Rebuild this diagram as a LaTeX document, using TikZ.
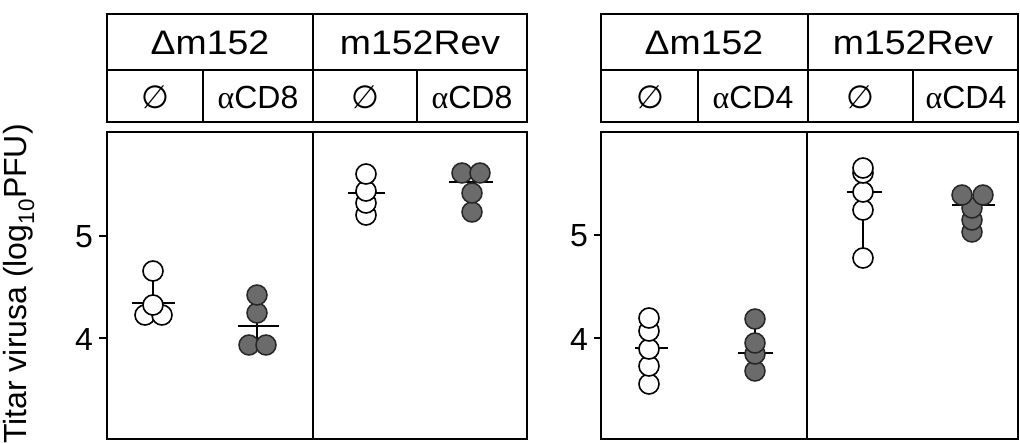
\documentclass[tikz,border=0pt]{standalone}
\usepackage{fontspec}
\setmainfont{Liberation Sans}
\newfontfamily\hdfont[FakeStretch=1.1]{Liberation Sans}
\newfontfamily\dvfont{DejaVu Sans}
\newfontfamily\grfont{Liberation Serif}
\newcommand\opendot[2]{\draw[opn] (#1,#2) circle[radius=10pt];}
\newcommand\filldot[2]{\draw[fil] (#1,#2) circle[radius=10pt];}
\begin{document}
\begin{tikzpicture}[x=1pt,y=-1pt,
 frame/.style={draw=black, line width=1.6pt},
 lbl/.style={font=\fontsize{32}{36}\selectfont, inner sep=0pt},
 hd/.style={font=\fontsize{34}{38}\selectfont\hdfont, inner sep=0pt},
 opn/.style={draw=black, fill=white, line width=1.6pt},
 fil/.style={draw=black!85, fill=black!58, line width=1.5pt},
 bar/.style={draw=black, line width=1.4pt}]
\useasboundingbox (0,0) rectangle (1020,442);
% ---------- left panel ----------
\draw[frame] (107,14) rectangle (527,122);
\draw[frame] (107,70) -- (527,70);
\draw[frame] (313,14) -- (313,122);
\draw[frame] (203,70) -- (203,122);
\draw[frame] (417,70) -- (417,122);
\draw[frame] (107,132) rectangle (527,439);
\draw[frame] (313,132) -- (313,439);
\node[hd] (la) at (210,43) {Δm152};
\node[hd] (lb) at (420,43) {m152Rev};
\node[lbl] (lc) at (155,97) {\dvfont ∅};
\node[lbl] (ld) at (258,97) {{\grfont α}CD8};
\node[lbl] (le) at (365,97) {\dvfont ∅};
\node[lbl] (lf) at (472,97) {{\grfont α}CD8};
% ticks
\draw[frame] (107,236) -- (99,236);
\draw[frame] (107,338) -- (99,338);
\node[lbl, anchor=east] (l5) at (93,237) {5};
\node[lbl, anchor=east] (l4) at (93,339) {4};
\node[lbl, rotate=90] (ylab) at (19,284) {Titar virusa (log\textsubscript{10}PFU)};
% data A
\draw[bar] (153,271) -- (153,303);
\draw[bar] (132,303) -- (175,303);
\opendot{145}{315}\opendot{162}{315}\opendot{153}{305}\opendot{153}{271}
% data B
\draw[bar] (257,295) -- (257,345);
\draw[bar] (238,326) -- (279,326);
\filldot{249}{345}\filldot{266}{345}\filldot{257}{313}\filldot{257}{295}
% data C
\draw[bar] (348,193) -- (385,193);
\opendot{366}{215}\opendot{366}{203}\opendot{366}{191}\opendot{366}{174}
% data D
\draw[bar] (472,182) -- (472,212);
\draw[bar] (449,182) -- (493,182);
\filldot{472}{212}\filldot{472}{193}\filldot{462}{173}\filldot{480}{173}
% ---------- right panel ----------
\draw[frame] (601,14) rectangle (1018,122);
\draw[frame] (601,70) -- (1018,70);
\draw[frame] (808,14) -- (808,122);
\draw[frame] (698,70) -- (698,122);
\draw[frame] (913,70) -- (913,122);
\draw[frame] (601,132) rectangle (1018,439);
\draw[frame] (807,132) -- (807,439);
\node[hd] (ra) at (704,43) {Δm152};
\node[hd] (rb) at (913,43) {m152Rev};
\node[lbl] (rc) at (650,97) {\dvfont ∅};
\node[lbl] (rd) at (753,97) {{\grfont α}CD4};
\node[lbl] (re) at (860,97) {\dvfont ∅};
\node[lbl] (rf) at (966,97) {{\grfont α}CD4};
\draw[frame] (601,235) -- (594,235);
\draw[frame] (601,338) -- (594,338);
\node[lbl, anchor=east] (r5) at (588,236) {5};
\node[lbl, anchor=east] (r4) at (588,339) {4};
% data E
\draw[bar] (635,348) -- (668,348);
\opendot{649}{384}\opendot{649}{366}\opendot{649}{349}\opendot{649}{331}\opendot{649}{318}
% data F
\draw[bar] (755,319) -- (755,371);
\draw[bar] (738,353) -- (773,353);
\filldot{755}{371}\filldot{755}{354}\filldot{755}{343}\filldot{755}{319}
% data G
\draw[bar] (863,192) -- (863,258);
\draw[bar] (847,192) -- (882,192);
\opendot{863}{258}\opendot{863}{210}\opendot{863}{192}\opendot{863}{173}\opendot{863}{168}
% data H
\draw[bar] (972,205) -- (972,232);
\draw[bar] (952,205) -- (995,205);
\filldot{972}{232}\filldot{972}{220}\filldot{972}{208}\filldot{962}{195}\filldot{983}{195}
\end{tikzpicture}
\end{document}
